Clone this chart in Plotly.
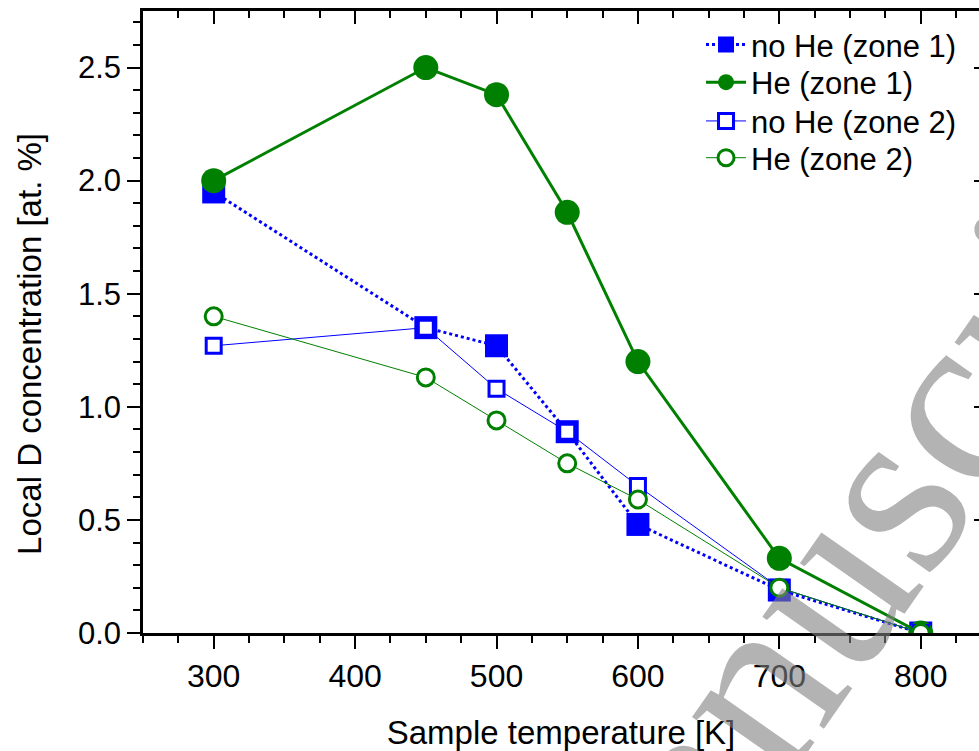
import plotly.graph_objects as go

temps = [300, 450, 500, 550, 600, 700, 800]
nohe_z1 = [1.95, 1.35, 1.27, 0.89, 0.48, 0.19, 0.0]
he_z1 = [2.00, 2.50, 2.38, 1.86, 1.20, 0.33, 0.0]
nohe_z2 = [1.27, 1.35, 1.08, 0.89, 0.65, 0.20, 0.0]
he_z2 = [1.40, 1.13, 0.94, 0.75, 0.59, 0.20, 0.0]
x_ticks = [300, 400, 500, 600, 700, 800]
y_ticks = [0.0, 0.5, 1.0, 1.5, 2.0, 2.5]
names = ["no He (zone 1)", "He (zone 1)", "no He (zone 2)", "He (zone 2)"]

BLUE = "#0000FF"
GREEN = "#008000"
FONT = "Liberation Sans, Arial, sans-serif"

fig = go.Figure()
fig.add_trace(go.Scatter(x=temps, y=nohe_z1, name=names[0], mode="lines+markers", legend="legend",
                         line=dict(color=BLUE, width=3, dash="dot"),
                         marker=dict(symbol="square", size=23, color=BLUE)))
fig.add_trace(go.Scatter(x=temps, y=he_z1, name=names[1], mode="lines+markers", legend="legend2",
                         line=dict(color=GREEN, width=3),
                         marker=dict(symbol="circle", size=25, color=GREEN)))
fig.add_trace(go.Scatter(x=temps, y=nohe_z2, name=names[2], mode="lines+markers", legend="legend3",
                         line=dict(color=BLUE, width=1),
                         marker=dict(symbol="square", size=15, color="white",
                                     line=dict(color=BLUE, width=3))))
fig.add_trace(go.Scatter(x=temps, y=he_z2, name=names[3], mode="lines+markers", legend="legend4",
                         line=dict(color=GREEN, width=1),
                         marker=dict(symbol="circle", size=17, color="white",
                                     line=dict(color=GREEN, width=3))))

xr = [250, 841.2]
yr = [0, 2.75]


def leg(yc):
    return dict(x=0.6675, y=yc, xanchor="left", yanchor="middle",
                bgcolor="rgba(0,0,0,0)", font=dict(size=31, family=FONT), itemwidth=40)


fig.update_layout(
    width=979, height=751,
    margin=dict(l=143, r=0, t=11, b=114),
    paper_bgcolor="white", plot_bgcolor="white",
    font=dict(family=FONT, color="black"),
    showlegend=True,
    legend=leg(0.9457), legend2=leg(0.885), legend3=leg(0.8227), legend4=leg(0.7636),
    xaxis=dict(range=xr, tickvals=x_ticks, ticktext=[str(v) for v in x_ticks],
               ticks="outside", ticklen=13, tickwidth=2, tickcolor="black",
               minor=dict(dtick=25, tick0=0, ticks="outside", ticklen=7, tickwidth=2, tickcolor="black"),
               showline=True, linewidth=2.5, linecolor="black", showgrid=False, zeroline=False,
               tickfont=dict(size=32, family=FONT),
               title=dict(text="Sample temperature [K]", font=dict(size=33, family=FONT), standoff=34)),
    yaxis=dict(range=yr, tickvals=y_ticks, ticktext=["%.1f" % v for v in y_ticks],
               ticks="outside", ticklen=13, tickwidth=2, tickcolor="black",
               minor=dict(dtick=0.1, tick0=0, ticks="outside", ticklen=7, tickwidth=2, tickcolor="black"),
               showline=True, linewidth=2.5, linecolor="black", showgrid=False, zeroline=False,
               tickfont=dict(size=31, family=FONT)),
    xaxis2=dict(range=xr, overlaying="x", side="top", anchor="y", tickvals=x_ticks,
                showticklabels=False, ticks="inside", ticklen=13, tickwidth=2, tickcolor="black",
                minor=dict(dtick=25, tick0=0, ticks="inside", ticklen=7, tickwidth=2, tickcolor="black"),
                showline=True, linewidth=2.5, linecolor="black", showgrid=False, zeroline=False),
    yaxis2=dict(range=yr, overlaying="y", side="right", anchor="x", tickvals=y_ticks,
                showticklabels=False, ticks="inside", ticklen=5, tickwidth=2, tickcolor="black",
                showline=False, showgrid=False, zeroline=False),
)
# invisible trace to activate the secondary (mirror) axes
fig.add_trace(go.Scatter(x=[None], y=[None], xaxis="x2", yaxis="y2", showlegend=False, hoverinfo="skip"))

# y-axis title
fig.add_annotation(text="Local D concentration [at. %]", xref="paper", yref="paper",
                   x=-0.135, y=0.465, xanchor="center", yanchor="middle", showarrow=False,
                   textangle=-90, font=dict(size=33, family=FONT, color="black"))

# watermark
fig.add_annotation(text="Manuscript", xref="paper", yref="paper", x=0.845, y=0.14,
                   xanchor="center", yanchor="middle", showarrow=False, textangle=-55,
                   font=dict(size=250, family="Liberation Serif, Times New Roman, serif",
                             color="rgba(128,128,128,0.6)"))

fig.write_html("out.html")
